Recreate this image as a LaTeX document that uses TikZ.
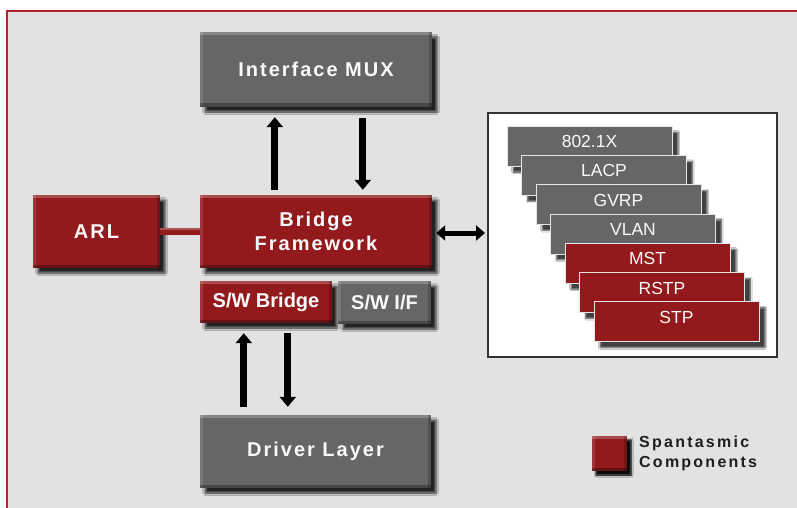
\documentclass[tikz,border=0pt]{standalone}
\usepackage{fontspec}
\setmainfont{Liberation Sans}
\newfontfamily\spaced[LetterSpace=10]{Liberation Sans}
\newfontfamily\legfont[LetterSpace=14]{Liberation Sans}
\usetikzlibrary{arrows.meta,shadows.blur}
\definecolor{bg}{HTML}{E1E2E1}
\definecolor{bred}{HTML}{921A1D}
\definecolor{bgray}{HTML}{666666}
\definecolor{framered}{HTML}{B0262B}
\definecolor{paneledge}{HTML}{333333}
\tikzset{
  bevel/.style={path picture={
    \fill[white,opacity=0.22] (path picture bounding box.north west) rectangle ([yshift=-3pt]path picture bounding box.north east);
    \fill[white,opacity=0.12] (path picture bounding box.north west) rectangle ([xshift=2.5pt]path picture bounding box.south west);
    \fill[black,opacity=0.3] (path picture bounding box.south west) rectangle ([yshift=3.5pt]path picture bounding box.south east);
    \fill[black,opacity=0.2] (path picture bounding box.north east) rectangle ([xshift=-3pt]path picture bounding box.south east);
  }},
  boxshadow/.style={blur shadow={shadow xshift=5pt, shadow yshift=-5pt, shadow blur radius=2.5pt, shadow opacity=85}},
  mainbox/.style={inner sep=0pt, text=white!95!gray, align=center,
    font=\spaced\bfseries\fontsize{20}{24}\selectfont, boxshadow, bevel},
  smallbox/.style={inner sep=0pt, text=white!95!gray, align=center,
    font=\bfseries\fontsize{20}{24}\selectfont, boxshadow, bevel},
  stackbox/.style={minimum width=165pt, minimum height=40pt, inner sep=0pt,
    draw=white!80!gray, line width=0.8pt,
    blur shadow={shadow xshift=6pt, shadow yshift=-6pt, shadow blur radius=1.5pt, shadow opacity=75}},
  stacklabel/.style={anchor=center, yshift=-16pt, inner sep=0pt, text=white!95!gray,
    font=\fontsize{17.5}{20}\selectfont},
  bigarrow/.style={line width=7pt, -{Triangle[width=16pt,length=10pt]}},
  dblarrow/.style={line width=5pt, {Triangle[width=15pt,length=9pt]}-{Triangle[width=15pt,length=9pt]}},
}
\begin{document}
\begin{tikzpicture}[x=1pt,y=-1pt]
\useasboundingbox (0,0) rectangle (797,508);
\fill[white] (0,0) rectangle (797,508);
\fill[bg] (6,10) rectangle (797,508);
\draw[framered, line width=2pt] (7,508) -- (7,11) -- (797,11);

% main boxes
\node[mainbox, fill=bgray, minimum width=232pt, minimum height=75pt] (mux) at (316,69.5) {Interface MUX};
\node[mainbox, fill=bred, minimum width=232pt, minimum height=73pt] (bf) at (316,231.5) {Bridge\\Framework};
\node[mainbox, fill=bred, minimum width=127pt, minimum height=73pt] (arl) at (96.5,231.5) {ARL};
\node[smallbox, fill=bred, minimum width=132pt, minimum height=42pt] (swb) at (266,302) {S/W Bridge};
\node[smallbox, fill=bgray, minimum width=93pt, minimum height=43pt] (swif) at (384.5,302.5) {S/W I/F};
\node[mainbox, fill=bgray, minimum width=231pt, minimum height=73pt] (drv) at (315.5,451.5) {Driver Layer};

% ARL connector
\draw[bred, line width=7pt] (arl.east) -- (bf.west);
\draw[white, opacity=0.25, line width=2pt] ([yshift=2.5pt]arl.east) -- ([yshift=2.5pt]bf.west);

% right panel
\node[draw=paneledge, line width=2pt, fill=white, minimum width=289pt, minimum height=244pt, inner sep=0pt] (panel) at (632.5,235) {};
\foreach \t/\c [count=\i from 0] in {802.1X/bgray, LACP/bgray, GVRP/bgray, VLAN/bgray, MST/bred, RSTP/bred, STP/bred}
  \node[stackbox, fill=\c, label={[stacklabel]north:\t}] (s\i) at ({589.5+14.5*\i},{146+29.3*\i}) {};

% arrows
\draw[bigarrow] ([xshift=75pt,yshift=5pt]bf.north west) -- ([xshift=75pt,yshift=-10pt]mux.south west);
\draw[bigarrow] ([xshift=163pt,yshift=-11pt]mux.south west) -- ([xshift=163pt,yshift=5pt]bf.north west);
\draw[bigarrow] ([xshift=44pt,yshift=8pt]drv.north west) -- ([xshift=44pt,yshift=-10pt]swb.south west);
\draw[bigarrow] ([xshift=88pt,yshift=-10pt]swb.south west) -- ([xshift=88pt,yshift=8pt]drv.north west);
\draw[dblarrow] ([xshift=4pt,yshift=-1.5pt]bf.east) -- ([xshift=-2pt,yshift=-1.5pt]bf.east -| panel.west);

% legend
\node[smallbox, fill=bred, minimum width=35pt, minimum height=35pt, blur shadow={shadow xshift=4pt, shadow yshift=-4pt, shadow blur radius=2pt, shadow opacity=80}] (leg) at (609.5,453.5) {};
\node[anchor=west, align=left, inner sep=0pt, text=black!88, font=\legfont\bfseries\fontsize{16}{20}\selectfont] (legtext) at (639,453) {Spantasmic\\Components};
\end{tikzpicture}
\end{document}
